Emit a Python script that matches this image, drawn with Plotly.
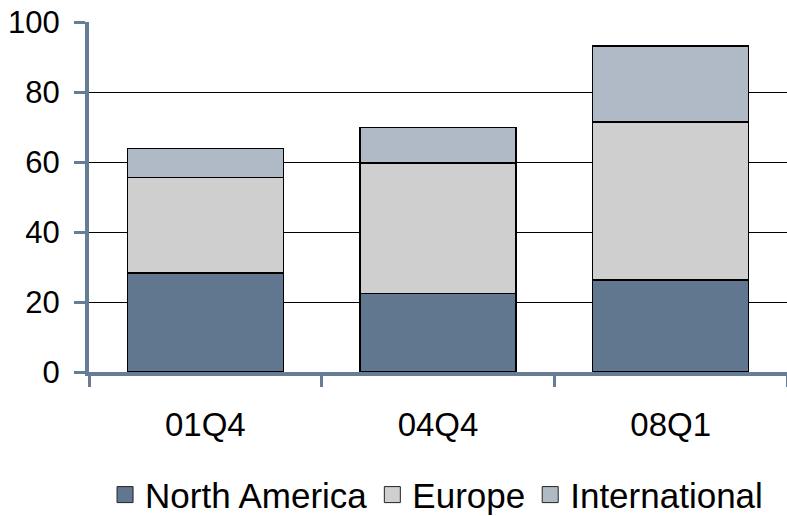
import plotly.graph_objects as go

# Quarterly figures by region (stacked)
quarters = ["01Q4", "04Q4", "08Q1"]
north_america = [28.3, 22.4, 26.3]
europe = [27.3, 37.3, 45.2]
international = [8.3, 10.2, 21.7]

series = [
    ("North America", north_america, "#61768F"),
    ("Europe", europe, "#CFCFCF"),
    ("International", international, "#B0BAC6"),
]

AXIS_COLOR = "#677C95"
FONT = "Liberation Sans, Arial, sans-serif"

fig = go.Figure()
for name, vals, color in series:
    fig.add_trace(go.Bar(
        x=quarters, y=vals, name=name, showlegend=False,
        marker=dict(color=color, line=dict(color="#000000", width=1.5)),
    ))
# legend entries drawn as square markers
for name, vals, color in series:
    fig.add_trace(go.Scatter(
        x=[None], y=[None], mode="markers", name=name,
        marker=dict(symbol="square", size=16, color=color,
                    line=dict(color="#222222", width=1)),
    ))

fig.update_layout(
    width=787, height=516,
    margin=dict(l=89, r=0, t=22, b=144, autoexpand=False),
    barmode="stack", bargap=0.33,
    paper_bgcolor="white", plot_bgcolor="white",
    font=dict(family=FONT, color="#000000"),
    legend=dict(
        orientation="h", x=0.023, xanchor="left", y=-0.351, yanchor="middle",
        font=dict(size=35, family=FONT), itemsizing="trace",
        traceorder="normal", tracegroupgap=0, bgcolor="rgba(0,0,0,0)",
    ),
)
fig.update_xaxes(
    type="category", range=[-0.5, 2.5],
    showline=True, linecolor=AXIS_COLOR, linewidth=4,
    ticks="outside", tickson="boundaries", ticklen=11, tickwidth=3,
    tickcolor=AXIS_COLOR, showgrid=False,
    tickfont=dict(size=33, family=FONT), ticklabelstandoff=20,
)
fig.update_yaxes(
    range=[0, 100], dtick=20, tick0=0,
    showline=True, linecolor=AXIS_COLOR, linewidth=4,
    ticks="outside", ticklen=11, tickwidth=3, tickcolor=AXIS_COLOR,
    showgrid=True, gridcolor="#000000", gridwidth=1, zeroline=False,
    tickfont=dict(size=31, family=FONT), ticklabelstandoff=8,
)

fig.write_html("out.html")
